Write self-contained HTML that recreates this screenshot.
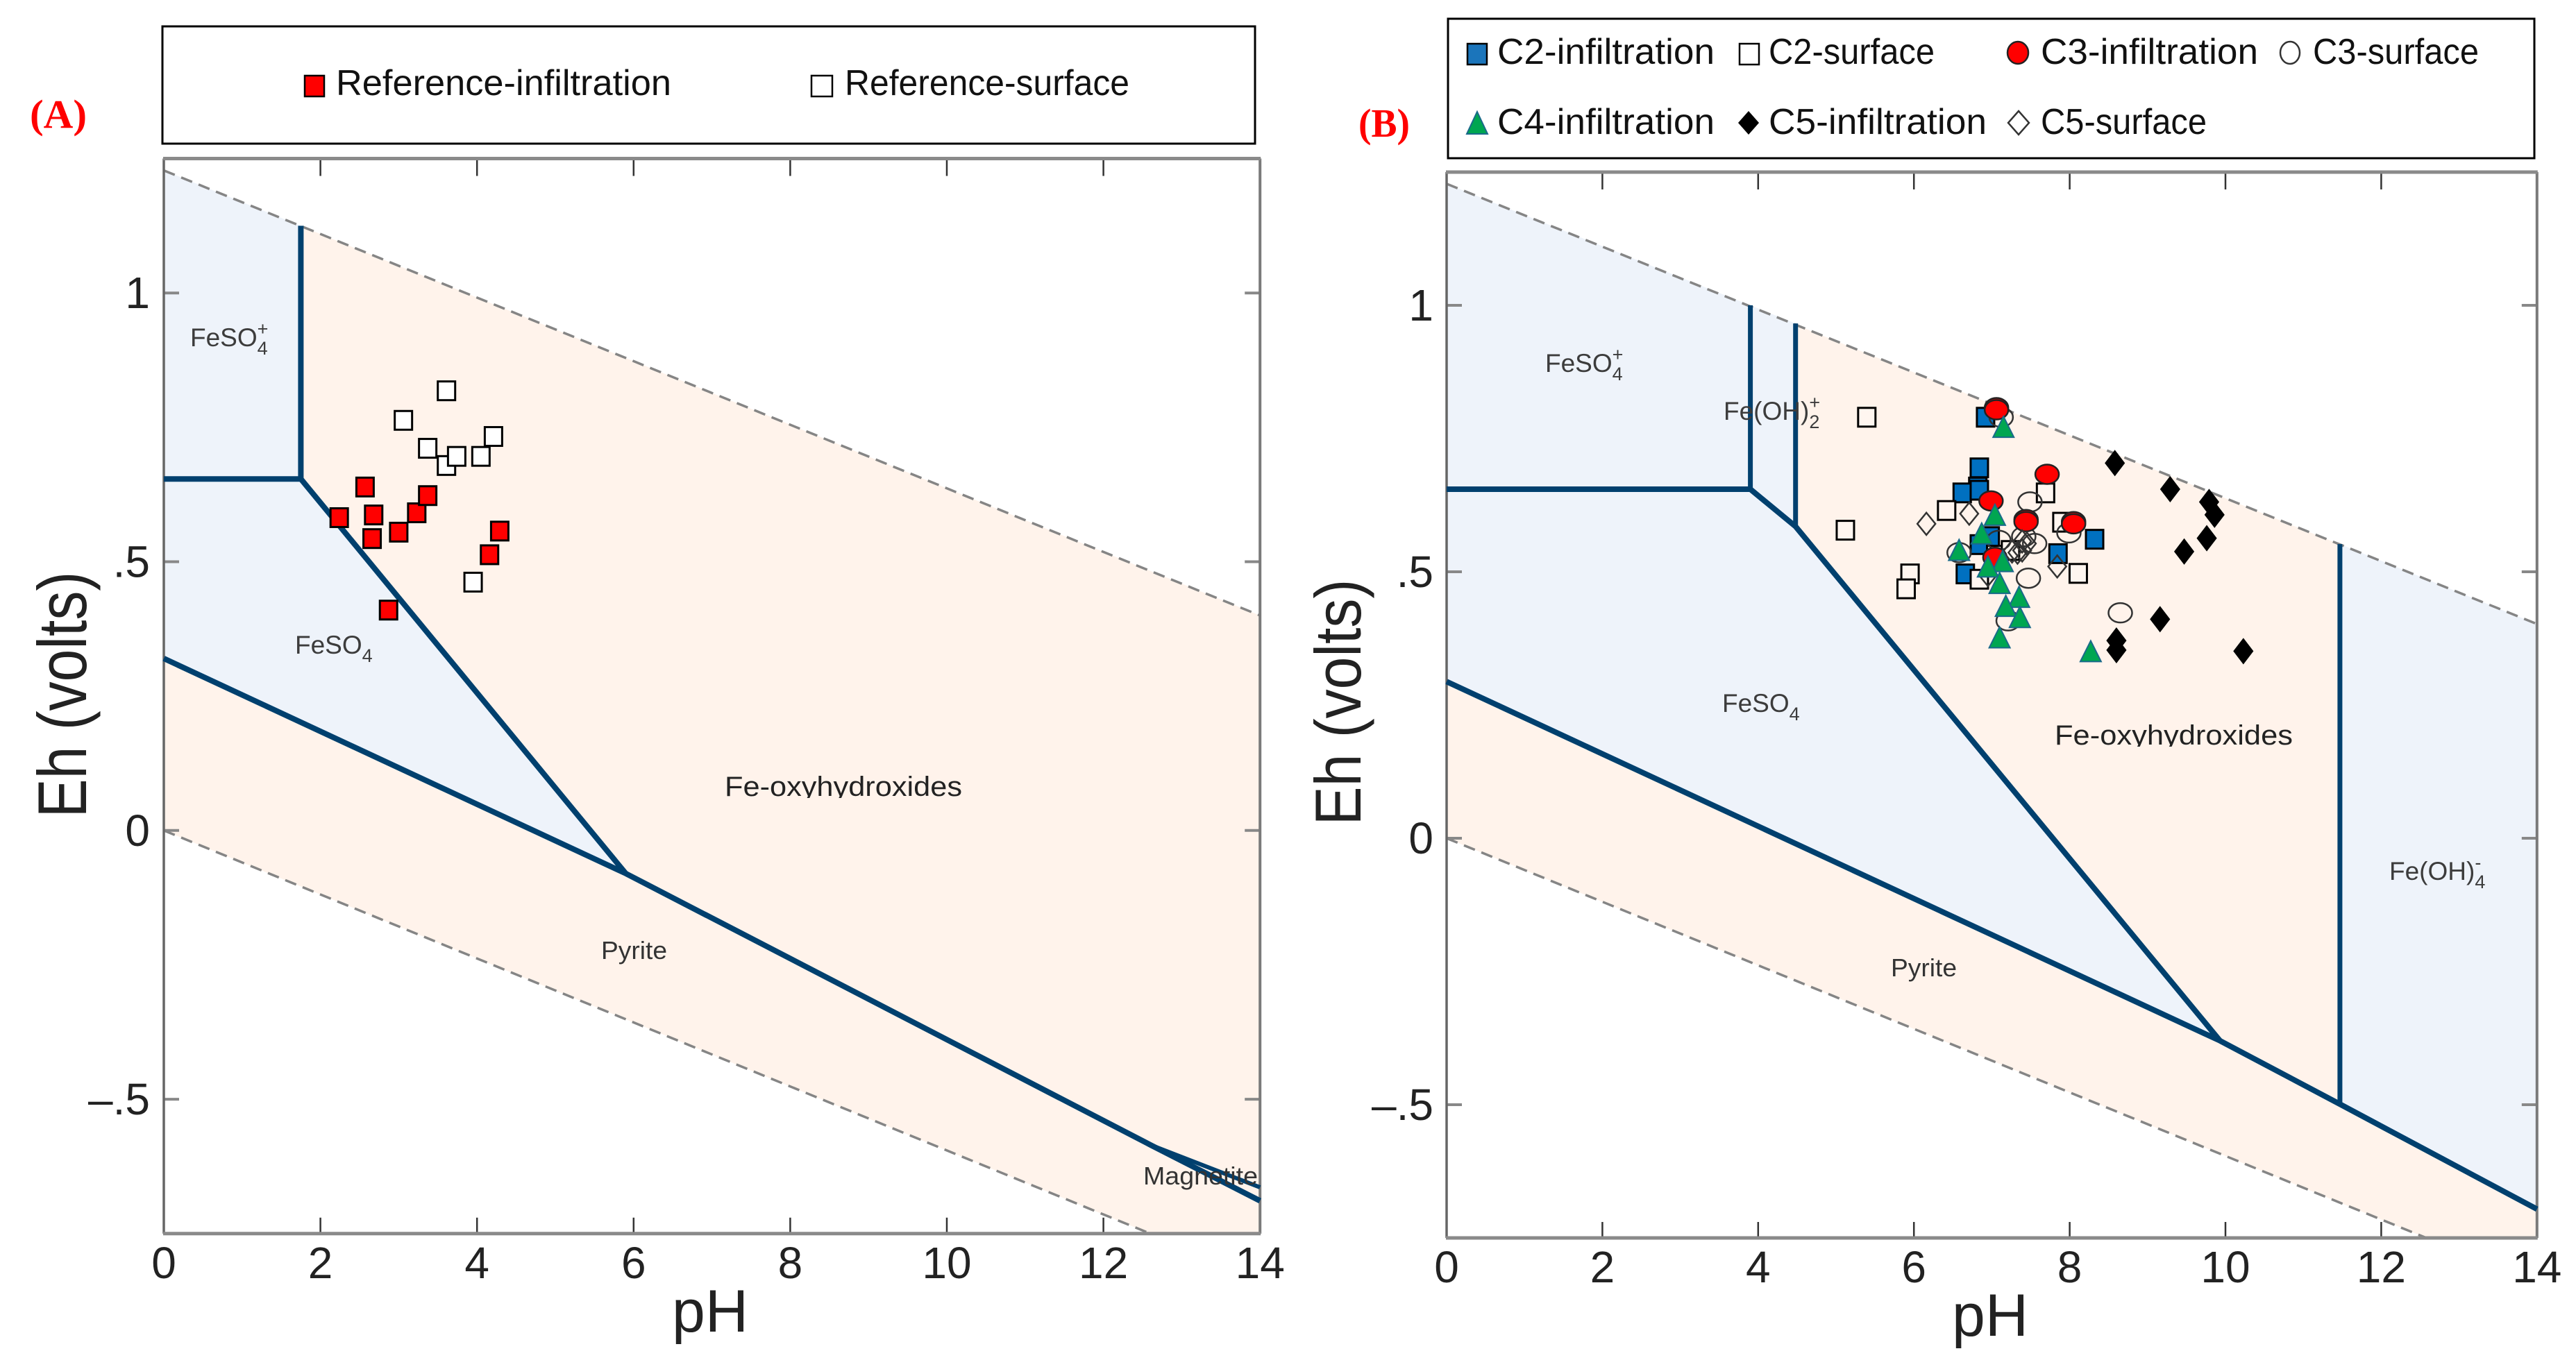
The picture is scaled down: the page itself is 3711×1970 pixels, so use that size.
<!DOCTYPE html>
<html lang="en">
<head>
<meta charset="utf-8">
<title>Eh-pH diagrams</title>
<style>
html,body{margin:0;padding:0;background:#fff;}
svg{display:block;}
text{font-family:"Liberation Sans",sans-serif;}
</style>
</head>
<body>
<svg id="figure" xmlns="http://www.w3.org/2000/svg" width="3711" height="1970" viewBox="0 0 3711 1970">
<defs>
<clipPath id="clip-a-oxy"><rect x="1030" y="1100" width="360" height="50"/></clipPath>
<clipPath id="clip-b-oxy"><rect x="2950" y="1026" width="360" height="50"/></clipPath>
</defs>
<rect x="0" y="0" width="3711" height="1970" fill="#fff"/>
<g id="panel-a"></g>
<g id="panel-b"></g>

<g id="labels-top">
<text x="43" y="184" style="font-family:'Liberation Serif',serif" font-weight="bold" font-size="58" fill="#ff0000" textLength="82" lengthAdjust="spacingAndGlyphs">(A)</text>
<text x="1957" y="197" style="font-family:'Liberation Serif',serif" font-weight="bold" font-size="58" fill="#ff0000" textLength="74" lengthAdjust="spacingAndGlyphs">(B)</text>

<g>
<rect x="234" y="38" width="1574" height="169" fill="#fff" stroke="#000" stroke-width="3"/>
<rect x="439" y="109" width="28" height="30" fill="#ff0000" stroke="#000" stroke-width="2.5"/>
<text x="484" y="137" font-size="52" fill="#111" textLength="483" lengthAdjust="spacingAndGlyphs">Reference-infiltration</text>
<rect x="1169" y="109" width="30" height="30" fill="#fff" stroke="#000" stroke-width="2.5"/>
<text x="1217" y="137" font-size="52" fill="#111" textLength="410" lengthAdjust="spacingAndGlyphs">Reference-surface</text>
</g>

<g>
<rect x="2086" y="27" width="1565" height="201" fill="#fff" stroke="#000" stroke-width="3"/>
<rect x="2114" y="63" width="28" height="30" fill="#1b75bb" stroke="#000" stroke-width="2.5"/>
<text x="2157" y="92" font-size="52" fill="#111" textLength="313" lengthAdjust="spacingAndGlyphs">C2-infiltration</text>
<rect x="2506" y="63" width="28" height="30" fill="#fff" stroke="#000" stroke-width="2.5"/>
<text x="2548" y="92" font-size="52" fill="#111" textLength="239" lengthAdjust="spacingAndGlyphs">C2-surface</text>
<ellipse cx="2907" cy="76" rx="15" ry="16" fill="#ff0000" stroke="#222" stroke-width="2.5"/>
<text x="2940" y="92" font-size="52" fill="#111" textLength="313" lengthAdjust="spacingAndGlyphs">C3-infiltration</text>
<ellipse cx="3299" cy="76" rx="14" ry="16" fill="#fff" stroke="#333" stroke-width="2.5"/>
<text x="3332" y="92" font-size="52" fill="#111" textLength="239" lengthAdjust="spacingAndGlyphs">C3-surface</text>
<polygon points="2128,161 2143,193 2113,193" fill="#00a651" stroke="#1a6a8a" stroke-width="2"/>
<text x="2157" y="193" font-size="52" fill="#111" textLength="313" lengthAdjust="spacingAndGlyphs">C4-infiltration</text>
<polygon points="2519,160 2534,177 2519,194 2504,177" fill="#000"/>
<text x="2548" y="193" font-size="52" fill="#111" textLength="314" lengthAdjust="spacingAndGlyphs">C5-infiltration</text>
<polygon points="2908,160 2923,177 2908,194 2893,177" fill="#fff" stroke="#333" stroke-width="2.5"/>
<text x="2940" y="193" font-size="52" fill="#111" textLength="239" lengthAdjust="spacingAndGlyphs">C5-surface</text>
</g>

<text transform="translate(124,1001) rotate(-90) scale(1,1.18)" text-anchor="middle" font-size="84" fill="#222">Eh (volts)</text>
<text x="1023" y="1919" text-anchor="middle" font-size="86" fill="#222">pH</text>
<text transform="translate(1960,1012) rotate(-90) scale(1,1.12)" text-anchor="middle" font-size="84" fill="#222">Eh (volts)</text>
<text x="2867" y="1925" text-anchor="middle" font-size="86" fill="#222">pH</text>
</g>
</svg>

<script>
const xTickValues = [0, 2, 4, 6, 8, 10, 12, 14];
const xTickLabels = ["0", "2", "4", "6", "8", "10", "12", "14"];
const yTickValues = [1, 0.5, 0, -0.5];
const yTickLabels = ["1", ".5", "0", "\u2013.5"];

/* Panel A: stability-field boundaries, as [pH, Eh] */
const aUpperWater = [[0, 1.228], [14, 0.4]];
const aLowerWater = [[0, 0], [12.6, -0.75]];
const aPeachField = [[0, 1.228], [14, 0.4], [14, -0.75], [12.6, -0.75], [0, 0]];
const aBlueField = [[0, 1.228], [1.75, 1.125], [1.75, 0.654], [5.9, -0.08], [0, 0.32]];
const aFerricLine = [[1.75, 1.125], [1.75, 0.654]];
const aShelfLine = [[0, 0.654], [1.75, 0.654]];
const aDiagonalLine = [[1.75, 0.654], [5.9, -0.08]];
const aPyriteLine = [[0, 0.32], [5.9, -0.08], [12.6, -0.585], [14, -0.689]];
const aMagnetiteLine = [[12.6, -0.585], [14, -0.664]];

/* Panel A: samples, as [pH, Eh] */
const referenceSurface = [[3.61, 0.818], [3.06, 0.763], [3.37, 0.711], [3.61, 0.679], [3.74, 0.696], [4.05, 0.696], [4.21, 0.733], [3.95, 0.462]];
const referenceInfiltration = [[2.57, 0.639], [2.24, 0.582], [2.68, 0.587], [2.66, 0.543], [3.0, 0.555], [3.23, 0.591], [3.37, 0.623], [4.29, 0.557], [4.16, 0.513], [2.87, 0.41]];

/* Panel B: stability-field boundaries, as [pH, Eh] */
const bUpperWater = [[0, 1.228], [14, 0.402]];
const bLowerWater = [[0, 0], [12.58, -0.75]];
const bPeachField = [[0, 1.228], [14, 0.402], [14, -0.75], [12.58, -0.75], [0, 0]];
const bBlueField = [[0, 1.228], [4.48, 0.966], [4.48, 0.585], [9.93, -0.38], [0, 0.294]];
const bRightBlueField = [[11.47, 0.552], [14, 0.402], [14, -0.696], [11.47, -0.499]];
const bFirstVertical = [[3.9, 1.0], [3.9, 0.655]];
const bSecondVertical = [[4.48, 0.966], [4.48, 0.585]];
const bThirdVertical = [[11.47, 0.552], [11.47, -0.499]];
const bShelfLine = [[0, 0.655], [3.9, 0.655]];
const bDiagonalLine = [[3.9, 0.655], [4.48, 0.585], [9.93, -0.38]];
const bPyriteLine = [[0, 0.294], [9.93, -0.38], [11.47, -0.499], [14, -0.696]];

/* Panel B: samples, as [pH, Eh] */
const c2Infiltration = [[6.92, 0.79], [6.84, 0.695], [6.82, 0.659], [6.62, 0.648], [6.84, 0.653], [8.32, 0.561], [7.85, 0.534], [6.66, 0.496], [6.98, 0.566], [6.84, 0.551]];
const c2Surface = [[5.395, 0.79], [6.42, 0.615], [7.69, 0.648], [5.12, 0.578], [5.95, 0.496], [5.9, 0.468], [8.11, 0.497], [7.9, 0.593], [6.84, 0.486], [7.05, 0.531], [7.24, 0.54]];
const c3Surface = [[7.49, 0.631], [7.99, 0.573], [7.55, 0.553], [7.47, 0.488], [8.65, 0.423], [7.21, 0.408], [6.58, 0.536], [7.09, 0.559], [7.41, 0.566], [7.12, 0.79]];
const c3Infiltration = [[7.06, 0.808], [7.06, 0.804], [7.71, 0.683], [6.99, 0.633], [7.44, 0.598], [7.44, 0.594], [8.05, 0.594], [8.05, 0.59], [7.04, 0.527]];
const c5Surface = [[6.16, 0.59], [6.71, 0.609], [6.95, 0.494], [7.84, 0.51], [7.33, 0.536], [7.39, 0.557], [7.26, 0.538], [7.45, 0.553], [7.39, 0.54]];
const c5Infiltration = [[8.58, 0.704], [9.29, 0.655], [9.79, 0.631], [9.86, 0.607], [9.76, 0.563], [9.47, 0.538], [9.16, 0.411], [10.23, 0.351], [8.6, 0.371], [8.6, 0.353]];
const c4Infiltration = [[7.15, 0.772], [7.04, 0.607], [6.87, 0.572], [6.58, 0.541], [7.14, 0.52], [6.95, 0.51], [7.1, 0.479], [7.35, 0.453], [7.18, 0.436], [7.36, 0.415], [7.1, 0.377], [8.27, 0.351]];

const SVG_NS = "http://www.w3.org/2000/svg";
const DARK = "#00406e";
const PEACH = "#fff3eb";
const BLUE = "#eef3fa";

function xA(pH) { return 236 + 112.8 * pH; }
function yA(eh) { return 1196.8 - 774.6 * eh; }
function xB(pH) { return 2084 + 112.2 * pH; }
function yB(eh) { return 1208 - 768 * eh; }

function make(parent, tag, attrs, name) {
  const el = document.createElementNS(SVG_NS, tag);
  for (const k in attrs) el.setAttribute(k, attrs[k]);
  
  
  parent.appendChild(el);
  return el;
}
function pointsOf(list, sx, sy) {
  return list.map(function (p) { return sx(p[0]).toFixed(1) + "," + sy(p[1]).toFixed(1); }).join(" ");
}
function field(parent, list, fill, sx, sy, name) {
  make(parent, "polygon", { points: pointsOf(list, sx, sy), fill: fill }, name);
}
function boundary(parent, list, width, sx, sy, name) {
  make(parent, "polyline", { points: pointsOf(list, sx, sy), fill: "none", stroke: DARK, "stroke-width": width, "stroke-linejoin": "miter" }, name);
}
function dashed(parent, list, sx, sy, name) {
  make(parent, "polyline", { points: pointsOf(list, sx, sy), fill: "none", stroke: "#858585", "stroke-width": 3.5, "stroke-dasharray": "17 10" }, name);
}
function squares(parent, list, fill, sx, sy, name) {
  list.forEach(function (p) {
    make(parent, "rect", { x: sx(p[0]) - 12.5, y: sy(p[1]) - 13.5, width: 25, height: 27, fill: fill, stroke: "#000", "stroke-width": 3 }, name);
  });
}
function ellipses(parent, list, fill, stroke, sx, sy, name) {
  list.forEach(function (p) {
    make(parent, "ellipse", { cx: sx(p[0]), cy: sy(p[1]), rx: 17, ry: 14, fill: fill, stroke: stroke, "stroke-width": 2.5 }, name);
  });
}
function diamonds(parent, list, fill, stroke, halfW, halfH, sx, sy, name) {
  list.forEach(function (p) {
    const x = sx(p[0]), y = sy(p[1]);
    make(parent, "polygon", { points: x + "," + (y - halfH) + " " + (x + halfW) + "," + y + " " + x + "," + (y + halfH) + " " + (x - halfW) + "," + y, fill: fill, stroke: stroke, "stroke-width": 2.5 }, name);
  });
}
function triangles(parent, list, sx, sy, name) {
  list.forEach(function (p) {
    const x = sx(p[0]), y = sy(p[1]);
    make(parent, "polygon", { points: x + "," + (y - 15) + " " + (x + 15) + "," + (y + 15) + " " + (x - 15) + "," + (y + 15), fill: "#00a651", stroke: "#1a6a8a", "stroke-width": 2 }, name);
  });
}
function axes(parent, sx, sy, xBase, yLabelRight, name) {
  const left = sx(0), right = sx(14), top = sy(1.25), bottom = sy(-0.75);
  xTickValues.forEach(function (v, i) {
    make(parent, "line", { x1: sx(v), x2: sx(v), y1: top, y2: top + 25, stroke: "#333", "stroke-width": 2.5 }, name + "-top-tick");
    make(parent, "line", { x1: sx(v), x2: sx(v), y1: bottom, y2: bottom - 23, stroke: "#333", "stroke-width": 2.5 }, name + "-bottom-tick");
    const t = make(parent, "text", { x: sx(v), y: xBase, "text-anchor": "middle", "font-size": 64, fill: "#222" }, name + "-x-tick-label");
    t.textContent = xTickLabels[i];
  });
  yTickValues.forEach(function (v, i) {
    make(parent, "line", { x1: left, x2: left + 22, y1: sy(v), y2: sy(v), stroke: "#888", "stroke-width": 4 }, name + "-left-tick");
    make(parent, "line", { x1: right, x2: right - 22, y1: sy(v), y2: sy(v), stroke: "#888", "stroke-width": 4 }, name + "-right-tick");
    const t = make(parent, "text", { x: yLabelRight, y: sy(v) + 22, "text-anchor": "end", "font-size": 64, fill: "#222" }, name + "-y-tick-label");
    t.textContent = yTickLabels[i];
  });
  make(parent, "line", { x1: left, x2: left, y1: top, y2: bottom, stroke: "#666", "stroke-width": 3.5 }, name + "-left-spine");
  make(parent, "line", { x1: right, x2: right, y1: top, y2: bottom, stroke: "#7a7a7a", "stroke-width": 4 }, name + "-right-spine");
  make(parent, "line", { x1: left - 1, x2: right + 1, y1: top, y2: top, stroke: "#8a8a8a", "stroke-width": 5 }, name + "-top-spine");
  make(parent, "line", { x1: left - 1, x2: right + 1, y1: bottom, y2: bottom, stroke: "#8a8a8a", "stroke-width": 5 }, name + "-bottom-spine");
}
/* species label: main text with optional subscript and superscript */
function species(parent, x, y, main, sub, sup, name) {
  const t = make(parent, "text", { x: x, y: y, "font-size": 37, fill: "#3c3c3c" }, name);
  t.appendChild(document.createTextNode(main));
  if (sub) {
    const s = document.createElementNS(SVG_NS, "tspan");
    s.setAttribute("dy", "12");
    s.setAttribute("font-size", "27");
    s.textContent = sub;
    t.appendChild(s);
  }
  if (sup) {
    const s = document.createElementNS(SVG_NS, "tspan");
    s.setAttribute("dy", "-28");
    s.setAttribute("dx", "-15");
    s.setAttribute("font-size", "27");
    s.textContent = sup;
    t.appendChild(s);
  }
}
function plainLabel(parent, x, y, size, length, text, clip, fill, name) {
  const attrs = { x: x, y: y, "font-size": size, fill: fill, textLength: length, lengthAdjust: "spacingAndGlyphs" };
  if (clip) attrs["clip-path"] = "url(#" + clip + ")";
  const t = make(parent, "text", attrs, name);
  t.textContent = text;
}

/* ---------- Panel A ---------- */
const pa = document.getElementById("panel-a");
field(pa, aPeachField, PEACH, xA, yA, "peach-field-a");
field(pa, aBlueField, BLUE, xA, yA, "blue-field-a");
dashed(pa, aUpperWater, xA, yA, "upper-water-limit-a");
dashed(pa, aLowerWater, xA, yA, "lower-water-limit-a");
axes(pa, xA, yA, 1842, 216, "axis-a");
boundary(pa, aFerricLine, 8, xA, yA, "boundary-ferric-a");
boundary(pa, aShelfLine, 8, xA, yA, "boundary-shelf-a");
boundary(pa, aDiagonalLine, 8, xA, yA, "boundary-diagonal-a");
boundary(pa, aPyriteLine, 8, xA, yA, "boundary-pyrite-a");
boundary(pa, aMagnetiteLine, 6, xA, yA, "boundary-magnetite-a");
species(pa, 274, 499, "FeSO", "4", "+", "field-label-feso4-plus-a");
species(pa, 425, 942, "FeSO", "4", "", "field-label-feso4-a");
plainLabel(pa, 1044, 1147, 40, 342, "Fe-oxyhydroxides", "clip-a-oxy", "#222", "field-label-fe-oxyhydroxides-a");
plainLabel(pa, 866, 1382, 36, 95, "Pyrite", "", "#333", "field-label-pyrite-a");
plainLabel(pa, 1647, 1707, 36, 165, "Magnetite", "", "#333", "field-label-magnetite-a");
squares(pa, referenceSurface, "#fff", xA, yA, "reference-surface-point");
squares(pa, referenceInfiltration, "#ff0000", xA, yA, "reference-infiltration-point");

/* ---------- Panel B ---------- */
const pb = document.getElementById("panel-b");
field(pb, bPeachField, PEACH, xB, yB, "peach-field-b");
field(pb, bBlueField, BLUE, xB, yB, "blue-field-b");
field(pb, bRightBlueField, BLUE, xB, yB, "blue-field-right-b");
dashed(pb, bUpperWater, xB, yB, "upper-water-limit-b");
dashed(pb, bLowerWater, xB, yB, "lower-water-limit-b");
axes(pb, xB, yB, 1848, 2065, "axis-b");
boundary(pb, bFirstVertical, 7, xB, yB, "boundary-first-vertical-b");
boundary(pb, bSecondVertical, 7, xB, yB, "boundary-second-vertical-b");
boundary(pb, bThirdVertical, 7, xB, yB, "boundary-third-vertical-b");
boundary(pb, bShelfLine, 8, xB, yB, "boundary-shelf-b");
boundary(pb, bDiagonalLine, 8, xB, yB, "boundary-diagonal-b");
boundary(pb, bPyriteLine, 8, xB, yB, "boundary-pyrite-b");
species(pb, 2226, 536, "FeSO", "4", "+", "field-label-feso4-plus-b");
species(pb, 2483, 605, "Fe(OH)", "2", "+", "field-label-feoh2-plus-b");
species(pb, 2481, 1026, "FeSO", "4", "", "field-label-feso4-b");
species(pb, 3442, 1268, "Fe(OH)", "4", "-", "field-label-feoh4-minus-b");
plainLabel(pb, 2960, 1073, 40, 343, "Fe-oxyhydroxides", "clip-b-oxy", "#222", "field-label-fe-oxyhydroxides-b");
plainLabel(pb, 2724, 1407, 36, 95, "Pyrite", "", "#333", "field-label-pyrite-b");
squares(pb, c2Infiltration, "#0070c0", xB, yB, "c2-infiltration-point");
squares(pb, c2Surface, "#fff6f0", xB, yB, "c2-surface-point");
ellipses(pb, c3Surface, "none", "#333", xB, yB, "c3-surface-point");
ellipses(pb, c3Infiltration, "#ff0000", "#222", xB, yB, "c3-infiltration-point");
diamonds(pb, c5Surface, "none", "#333", 13, 16, xB, yB, "c5-surface-point");
diamonds(pb, c5Infiltration, "#000", "#000", 13, 17, xB, yB, "c5-infiltration-point");
triangles(pb, c4Infiltration, xB, yB, "c4-infiltration-point");
</script>
</body>
</html>
